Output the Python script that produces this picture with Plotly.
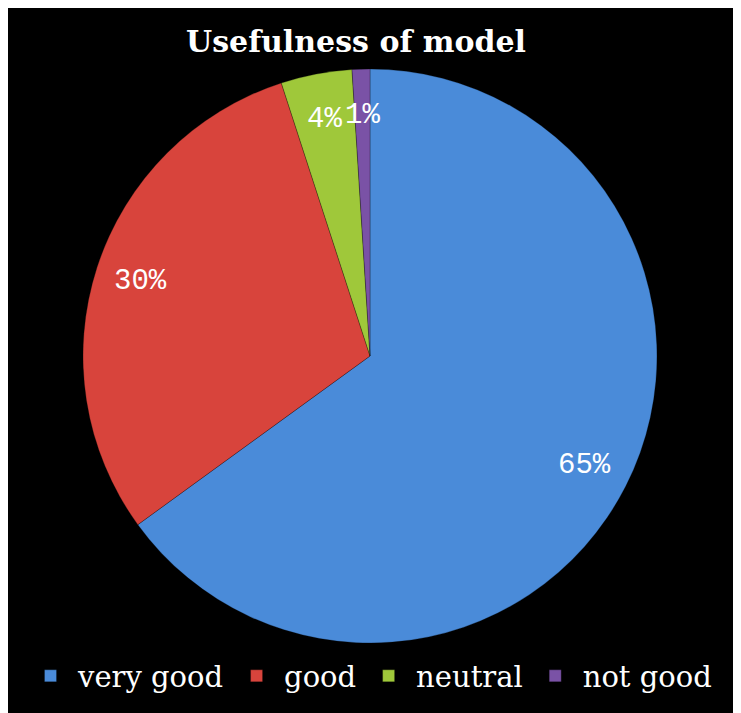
import math
import plotly.graph_objects as go

title_text = "Usefulness of model"
categories = ["very good", "good", "neutral", "not good"]
values = [65, 30, 4, 1]
label_texts = ["65%", "30%", "4%", "1%"]
colors = ["#4a8bd9", "#d8443c", "#9fc83a", "#7a52a6"]

W, H = 741, 713
cx, cy, R = 362, 348, 287  # in figure px

fig = go.Figure(
    go.Pie(
        labels=categories,
        values=values,
        sort=False,
        direction="clockwise",
        rotation=0,
        marker=dict(colors=colors, line=dict(color="rgba(0,0,0,0.25)", width=1)),
        textinfo="none",
        domain=dict(x=[(cx - R) / W, (cx + R) / W], y=[(H - cy - R) / H, (H - cy + R) / H]),
        hoverinfo="label+percent",
    )
)

# percent labels placed along each slice's mid-angle
total = sum(values)
cum = 0
for v, t in zip(values, label_texts):
    mid = (cum + v / 2) / total * 2 * math.pi
    cum += v
    r = 0.84 * R
    px = cx + r * math.sin(mid)
    py = cy - r * math.cos(mid)
    fig.add_annotation(
        x=px / W, y=1 - py / H, xref="paper", yref="paper",
        text=t, showarrow=False, xanchor="center", yanchor="middle",
        font=dict(family="Liberation Mono", size=29, color="white"),
    )

fig.update_layout(
    width=W,
    height=H,
    margin=dict(l=0, r=0, t=0, b=0),
    paper_bgcolor="black",
    plot_bgcolor="black",
    title=dict(
        text="<b>" + title_text + "</b>",
        x=348 / W,
        xanchor="center",
        y=1 - 33 / H,
        yanchor="middle",
        font=dict(family="DejaVu Serif", size=30, color="white"),
    ),
    legend=dict(
        orientation="h",
        x=cx / W,
        xanchor="center",
        y=1 - 668 / H,
        yanchor="middle",
        itemwidth=45,
        font=dict(family="DejaVu Serif", size=29, color="white"),
        bgcolor="rgba(0,0,0,0)",
    ),
    showlegend=True,
)

fig.write_html("out.html")
